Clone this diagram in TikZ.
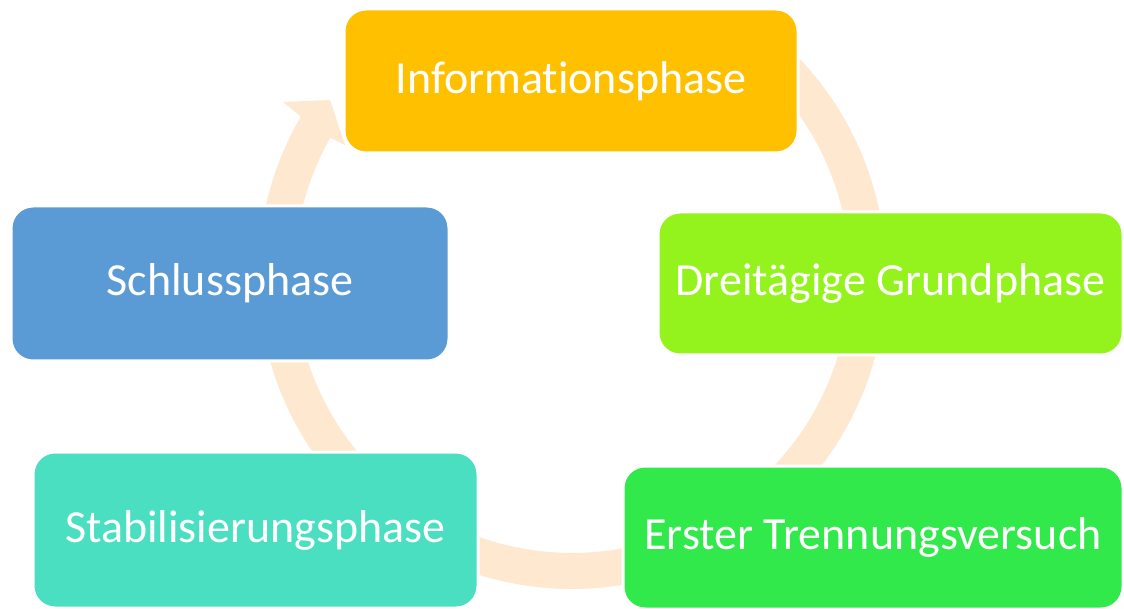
\documentclass[tikz,border=0pt]{standalone}
\usepackage{fontspec}
\setmainfont[RawFeature={-liga;-clig;-dlig;-calt}]{Carlito}
\definecolor{ringc}{RGB}{254,232,207}
\definecolor{infoc}{RGB}{255,192,0}
\definecolor{dreic}{RGB}{149,243,29}
\definecolor{erstc}{RGB}{49,233,75}
\definecolor{stabc}{RGB}{74,223,193}
\definecolor{schlc}{RGB}{91,155,213}
\begin{document}
\begin{tikzpicture}[x=1pt,y=-1pt,
  phasebox/.style={rectangle, rounded corners=22pt, draw=white, line width=3pt,
    text=white, inner sep=0pt, outer sep=0pt, font=\fontsize{46}{55}\selectfont},
  ringfill/.style={fill=ringc, draw=none}]
\useasboundingbox[fill=white] (0,0) rectangle (1124,609);
% ring arrow
\coordinate (barbout) at (283,102);
\coordinate (tip) at (330,100);
\coordinate (barbin) at (345,145);
\fill[ringfill]
  plot[domain=-52:210.3, samples=120] ({572+314*cos(\x)},{275+314*sin(\x)})
  -- (barbout) -- (tip) -- (barbin)
  -- plot[domain=209.6:-52, samples=120] ({572+278*cos(\x)},{275+278*sin(\x)})
  -- cycle;
% boxes
\node[phasebox, fill=infoc, minimum width=454pt, minimum height=144pt] (info) at (571,81) {\raisebox{-2pt}{Informationsphase}};
\node[phasebox, fill=dreic, minimum width=465pt, minimum height=143pt] (drei) at (890.5,283.5) {\raisebox{-2pt}{Dreitägige Grundphase}};
\node[phasebox, fill=erstc, minimum width=500pt, minimum height=143pt] (erst) at (873,537.5) {\raisebox{-5pt}{Erster Trennungsversuch}};
\node[phasebox, fill=stabc, minimum width=445pt, minimum height=156pt] (stab) at (255.5,530) {\raisebox{-3pt}{Stabilisierungsphase}};
\node[phasebox, fill=schlc, minimum width=438pt, minimum height=155pt] (schl) at (230,283.5) {\raisebox{-2pt}{Schlussphase}};
\end{tikzpicture}
\end{document}
